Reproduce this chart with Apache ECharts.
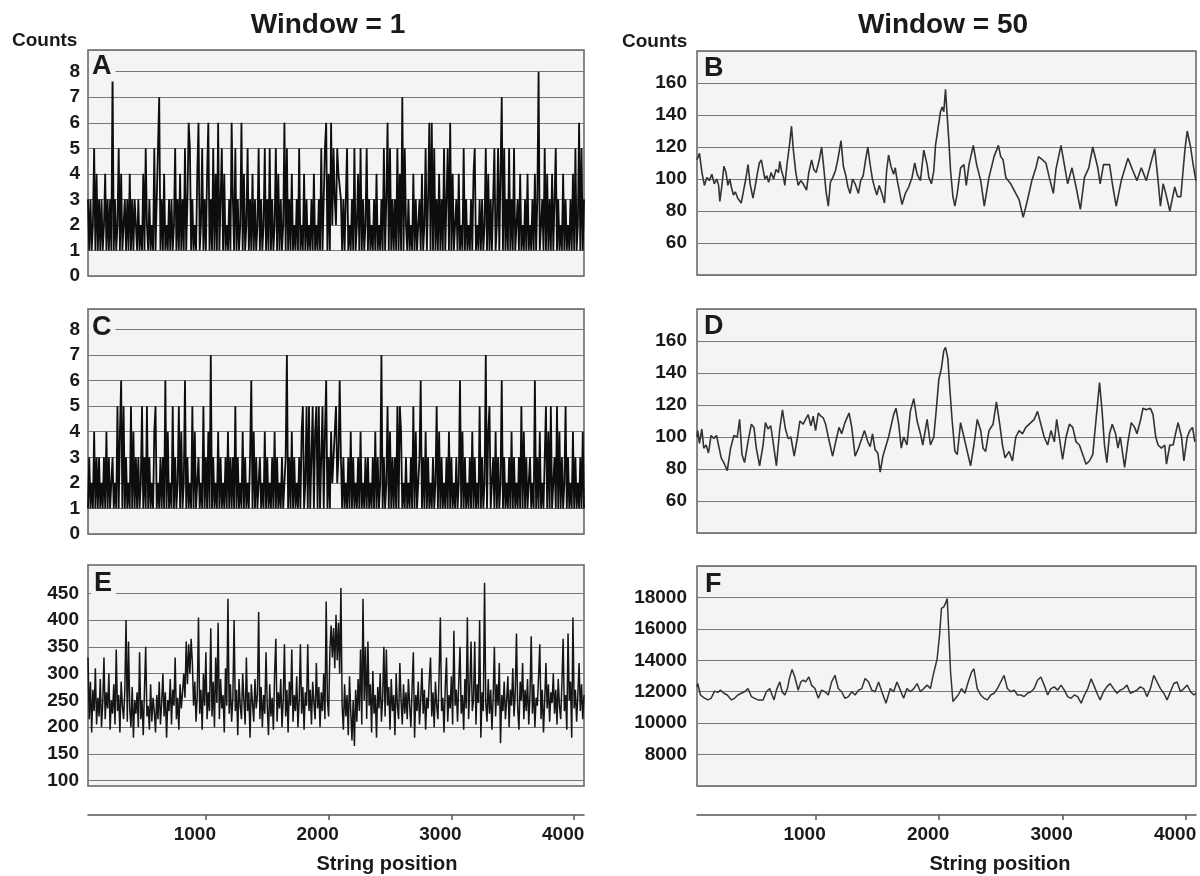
<!DOCTYPE html>
<html><head><meta charset="utf-8">
<script src="https://cdn.jsdelivr.net/npm/echarts@6/dist/echarts.min.js"></script>
<style>html,body{margin:0;padding:0;background:#fff}#c{width:1200px;height:876px}</style>
</head><body><div id="c"></div>
<script>
// ---------------- DATA ----------------
const POS_START = 40;      // first string position sampled
const POS_STEP = 10;       // string positions between samples in panels A, C, E

// Panel A: counts, window = 1 (one digit per sample)
const countsA = [
 "3131251413","1312413131","8131251412","3131413132",
 "1312141521","3121513571","3141213131","2513141315",
 "1365131214","6125131461","3151416135","1412131631",
 "5131261412","5131413125","1312513151","3125141312",
 "6151314121","3151214131","2131412131","5135614162",
 "5325443131","3512131512","4151312513","1213141213",
 "1513615131","3151417152","1312141312","3141251361",
 "6151314131","5135161412","3141215131","2131451213",
 "1312514131","3512514715","1315131512","3141213141",
 "2131413812","3151413141","1513121413","1213141512",
 "61513"
].join('').split('').map(Number);

// Panel C: counts, window = 1
const countsC = [
 "1312141313","1213141312","3121514615","1312151413",
 "1312513151","3121451213","1316141215","1312514126",
 "1312151412","3121513141","7131214131","2131413131",
 "5131214131","2136141312","3121413121","3141312131",
 "1371314131","2131451251","5135145151","3514613142",
 "3452363131","2131413121","3141213131","2131413127",
 "1312514131","3151541213","1213151412","3613141312",
 "1312514131","2131413121","3126141312","1314131215",
 "1312714512","3141312613","1213141312","1315141312",
 "3121613141","2135141512","3151413125","1312141312",
 "13141"
].join('').split('').map(Number);

// Panel E: counts, window = 1
const countsE = [
 330,215,285,190,270,230,310,205,255,220,290,200,245,330,215,265,235,300,195,250,
 225,280,205,345,230,260,190,285,240,215,270,400,210,360,235,200,275,180,250,225,
 265,200,340,215,250,185,270,350,220,240,195,280,210,255,230,190,260,215,285,205,
 245,300,220,265,180,250,230,290,205,270,240,330,215,255,195,280,235,265,300,255,
 360,280,355,300,365,320,240,285,210,260,405,225,270,195,300,240,340,215,265,230,
 385,220,285,200,330,245,395,215,290,235,260,190,310,240,440,225,280,210,255,400,
 230,270,185,290,240,215,300,250,205,330,230,265,180,280,245,210,290,235,260,415,
 215,275,200,260,225,340,240,185,280,220,255,195,300,365,210,265,235,290,200,250,
 355,220,270,190,285,240,345,210,260,230,295,200,250,355,225,275,195,265,240,355,
 230,270,205,285,245,215,320,235,275,200,265,230,300,215,435,250,220,340,390,330,
 385,310,410,325,395,300,460,240,195,280,220,260,185,295,230,175,250,165,270,210,
 290,230,345,205,440,250,350,215,360,240,280,190,305,225,260,180,275,235,300,210,
 255,350,220,345,240,275,195,290,230,260,185,300,240,215,320,250,205,280,225,265,
 215,290,240,200,275,340,180,260,230,285,205,250,310,225,270,195,255,235,290,330,
 220,265,200,285,240,215,300,405,230,255,190,275,330,210,260,235,295,205,380,240,
 270,210,285,350,225,260,195,290,235,405,215,275,360,230,250,360,205,280,245,400,
 180,265,230,470,245,210,290,225,270,195,255,350,220,280,240,320,170,260,230,285,
 215,250,295,200,270,240,310,220,265,375,235,195,285,250,320,215,270,230,290,205,
 260,370,225,280,200,255,240,295,355,215,270,190,250,320,235,280,210,265,245,300,
 225,270,205,290,240,215,280,365,230,260,195,375,250,285,180,405,235,270,210,260,
 320,230,280,215,260
];

// Panel B: window = 50, [string position, counts]
const seriesB = [
 [40,112],[60,116],[80,104],[100,96],[120,101],[140,99],[160,103],[180,97],[200,100],[215,96],
 [225,86],[240,95],[258,108],[275,104],[290,96],[305,100],[318,95],[335,90],[350,92],[370,88],
 [385,89],[398,85],[415,92],[435,100],[453,109],[470,97],[493,88],[510,95],[530,104],[545,110],
 [561,112],[575,106],[590,100],[605,102],[620,98],[640,104],[660,100],[680,106],[700,104],[710,111],
 [725,105],[740,101],[751,96],[770,110],[790,122],[805,133],[820,118],[840,104],[859,96],[880,99],
 [900,97],[927,93],[945,104],[968,112],[985,106],[1005,104],[1030,112],[1049,120],[1065,108],[1085,92],
 [1103,83],[1120,98],[1140,101],[1160,105],[1180,112],[1206,124],[1225,108],[1245,102],[1262,95],[1280,91],
 [1300,100],[1320,97],[1347,91],[1365,99],[1385,102],[1405,112],[1423,120],[1440,110],[1460,100],[1480,94],
 [1496,90],[1515,96],[1537,91],[1558,85],[1575,105],[1591,115],[1610,108],[1632,103],[1645,107],[1659,100],
 [1700,84],[1727,91],[1754,95],[1781,101],[1803,110],[1822,103],[1849,99],[1876,118],[1903,109],[1917,101],
 [1938,97],[1957,105],[1971,121],[1992,132],[2011,142],[2025,145],[2038,142],[2052,156],[2066,139],[2079,124],
 [2093,105],[2112,89],[2128,83],[2147,91],[2174,107],[2201,109],[2220,96],[2242,109],[2277,121],[2304,109],
 [2337,99],[2366,83],[2404,101],[2445,114],[2480,121],[2499,114],[2518,112],[2540,101],[2580,97],[2621,91],
 [2648,87],[2681,76],[2716,87],[2751,99],[2784,107],[2805,114],[2838,112],[2865,110],[2892,101],[2925,91],
 [2946,106],[2987,121],[3014,109],[3041,97],[3076,107],[3109,95],[3144,81],[3177,101],[3212,107],[3244,120],
 [3285,107],[3304,97],[3331,109],[3380,109],[3407,95],[3434,83],[3475,99],[3529,113],[3570,105],[3602,99],
 [3637,107],[3678,99],[3711,109],[3746,119],[3773,99],[3792,83],[3814,97],[3835,91],[3868,80],[3908,95],
 [3930,89],[3957,89],[3990,118],[4009,130],[4036,120],[4057,109],[4079,99]
];

// Panel D: window = 50
const seriesD = [
 [40,100],[46,104],[60,96],[79,105],[95,93],[114,95],[133,90],[154,101],[176,99],[198,101],
 [214,95],[236,87],[263,83],[285,79],[312,93],[339,101],[366,100],[385,111],[404,89],[425,84],
 [453,97],[480,108],[501,106],[520,93],[547,82],[575,95],[594,109],[615,105],[637,107],[656,97],
 [683,82],[710,105],[732,117],[756,105],[778,99],[800,100],[827,88],[854,100],[873,110],[900,108],
 [919,111],[940,114],[962,107],[981,113],[1000,104],[1022,115],[1043,113],[1062,112],[1081,108],[1103,100],
 [1138,88],[1163,97],[1190,106],[1211,102],[1238,109],[1271,115],[1293,106],[1320,88],[1347,93],[1374,99],
 [1396,104],[1423,97],[1442,94],[1461,102],[1482,92],[1504,90],[1523,78],[1545,88],[1564,93],[1591,100],
 [1632,114],[1651,118],[1673,108],[1694,93],[1713,100],[1740,95],[1767,116],[1795,124],[1822,110],[1849,102],
 [1868,95],[1903,111],[1930,95],[1957,100],[1976,116],[1998,136],[2019,143],[2038,154],[2052,156],[2071,149],
 [2087,130],[2106,110],[2128,91],[2147,89],[2174,109],[2201,100],[2228,91],[2255,82],[2282,95],[2309,111],
 [2337,104],[2356,93],[2377,91],[2404,104],[2437,108],[2464,122],[2491,108],[2513,95],[2534,87],[2567,91],
 [2594,85],[2621,100],[2648,104],[2675,102],[2702,106],[2743,109],[2770,111],[2797,116],[2824,108],[2851,100],
 [2879,95],[2906,104],[2933,97],[2952,111],[2973,100],[3000,86],[3028,100],[3055,108],[3082,106],[3109,97],
 [3136,95],[3163,89],[3190,83],[3217,85],[3244,89],[3272,112],[3299,134],[3320,116],[3339,95],[3358,84],
 [3380,102],[3402,108],[3429,102],[3448,93],[3467,100],[3502,81],[3529,97],[3556,109],[3583,106],[3602,102],
 [3629,110],[3651,118],[3678,117],[3711,118],[3732,114],[3754,100],[3773,95],[3800,93],[3827,95],[3841,83],
 [3868,95],[3895,95],[3914,102],[3935,109],[3963,100],[3982,85],[4009,100],[4030,104],[4052,106],[4071,97]
];

// Panel F: window = 50
const seriesF = [
 [40,12300],[46,12520],[68,11790],[95,11620],[127,11480],[154,11580],[182,12040],[209,11960],[230,12100],[257,11900],
 [285,11790],[317,11480],[344,11580],[371,11790],[398,11900],[425,12000],[453,12200],[480,11690],[507,11580],[534,11480],
 [575,11480],[602,12000],[629,12200],[648,11790],[664,11480],[683,12100],[710,12630],[729,12000],[751,11790],[772,12200],
 [791,12940],[810,13420],[832,12940],[859,12100],[881,12630],[900,12730],[919,12630],[946,12940],[967,12420],[995,12200],
 [1022,11580],[1049,12100],[1076,12000],[1103,11790],[1130,12630],[1157,13050],[1184,12200],[1211,12000],[1238,11580],[1266,11690],
 [1293,12000],[1320,11790],[1347,12100],[1374,12200],[1401,12840],[1428,12630],[1455,12100],[1482,12000],[1510,12620],[1537,12000],
 [1570,11270],[1605,12200],[1632,12000],[1659,12620],[1686,12100],[1713,11580],[1740,12200],[1767,12000],[1795,12200],[1822,12520],
 [1849,12000],[1876,12200],[1903,12420],[1930,12200],[1949,12940],[1965,12830],[1984,14080],[2003,15540],[2019,17300],[2038,17400],
 [2052,17620],[2066,17930],[2079,15740],[2093,13250],[2112,11380],[2128,11270],[2155,11790],[2182,12200],[2209,11900],[2236,12620],
 [2263,13250],[2282,13460],[2309,12200],[2337,11790],[2364,11580],[2391,11480],[2418,11790],[2445,11900],[2472,12200],[2499,12620],
 [2526,13040],[2553,12200],[2580,12000],[2608,12100],[2635,11790],[2662,11790],[2689,11690],[2716,11900],[2743,12000],[2770,12200],
 [2797,12730],[2824,12940],[2851,12420],[2879,11790],[2906,12200],[2933,12310],[2960,12100],[2987,12420],[3014,12100],[3041,11690],
 [3068,11580],[3095,11790],[3122,11690],[3150,11270],[3177,11790],[3204,12200],[3231,12830],[3258,12310],[3285,11790],[3304,11480],
 [3331,12000],[3358,12310],[3385,12520],[3412,12200],[3440,11900],[3467,12100],[3494,12200],[3521,12420],[3548,11900],[3575,12000],
 [3602,12100],[3629,12310],[3656,12200],[3683,11690],[3711,12200],[3738,13040],[3765,12620],[3792,12200],[3819,11900],[3846,11480],
 [3873,12000],[3900,12520],[3927,12620],[3954,12000],[3982,12200],[4009,12420],[4036,12000],[4063,11790],[4079,11900]
];

const xTicks = [1000, 2000, 3000, 4000];
const yTicksE = [100, 150, 200, 250, 300, 350, 400, 450];
const panelLetters = ['A', 'B', 'C', 'D', 'E', 'F'];
const columnTitles = ['Window = 1', 'Window = 50'];
const yAxisTitle = 'Counts';
const xAxisTitle = 'String position';

// ---------------- CHART ----------------
const FONT = '"Liberation Sans", Arial, Helvetica, sans-serif';
const BG = '#f4f4f4';
const GRIDLINE = '#787878';
const TEXT = '#1a1a1a';

const withPos = arr => arr.map((v, i) => [POS_START + i * POS_STEP, v]);

const gridBoxes = [
  {left: 88,  top: 50,  width: 496, height: 226},
  {left: 697, top: 51,  width: 499, height: 224},
  {left: 88,  top: 309, width: 496, height: 225},
  {left: 697, top: 309, width: 499, height: 224},
  {left: 88,  top: 565, width: 496, height: 221},
  {left: 697, top: 566, width: 499, height: 220}
];
const grid = gridBoxes.map(g => Object.assign({
  show: true, backgroundColor: BG, borderColor: '#626262', borderWidth: 1.5
}, g));

const labelStyle = {color: TEXT, fontSize: 19, fontWeight: 'bold', fontFamily: FONT};

const xAxis = gridBoxes.map((g, i) => ({
  type: 'value', gridIndex: i, min: 40, max: 4080,
  show: i >= 4, offset: 29,
  axisLine: {show: true, onZero: false, lineStyle: {color: '#555', width: 1.6}},
  axisTick: {show: true, length: 5, customValues: xTicks, lineStyle: {color: '#555', width: 1.5}},
  axisLabel: Object.assign({
    customValues: xTicks, margin: 10, padding: [0, 22, 0, 0],
    formatter: v => (v % 1000 === 0 ? String(v) : '')
  }, labelStyle),
  splitLine: {show: false}
}));

const splitLine = {show: true, lineStyle: {color: GRIDLINE, width: 1.2}};
const baseY = (i, extra) => Object.assign({
  type: 'value', gridIndex: i,
  axisLine: {show: false}, axisTick: {show: false},
  splitLine: splitLine
}, extra);

const yAxis = [
  baseY(0, {min: 0, max: 8.85, interval: 1,
    axisLabel: Object.assign({margin: 8, formatter: v => (Number.isInteger(v) ? String(v) : '')}, labelStyle)}),
  baseY(1, {min: 40, max: 180, interval: 20,
    axisLabel: Object.assign({margin: 10, formatter: v => (v === 40 || v === 180 ? '' : String(v))}, labelStyle)}),
  baseY(2, {min: 0, max: 8.8, interval: 1,
    axisLabel: Object.assign({margin: 8, formatter: v => (Number.isInteger(v) ? String(v) : '')}, labelStyle)}),
  baseY(3, {min: 40, max: 180, interval: 20,
    axisLabel: Object.assign({margin: 10, formatter: v => (v === 40 || v === 180 ? '' : String(v))}, labelStyle)}),
  baseY(4, {min: 90, max: 503,
    axisTick: {show: false, customValues: yTicksE},
    axisLabel: Object.assign({margin: 9, customValues: yTicksE, formatter: v => String(v)}, labelStyle)}),
  baseY(5, {min: 6000, max: 20000, interval: 2000,
    axisLabel: Object.assign({margin: 10, formatter: v => (v === 6000 || v === 20000 ? '' : String(v))}, labelStyle)})
];

const lineSeries = (i, data, color, width) => ({
  type: 'line', xAxisIndex: i, yAxisIndex: i, data: data,
  symbol: 'none', showSymbol: false, silent: true, animation: false,
  lineStyle: {color: color, width: width}, emphasis: {disabled: true}, z: 3
});

const series = [
  lineSeries(0, withPos(countsA), '#0d0d0d', 1.8),
  lineSeries(1, seriesB, '#333', 1.6),
  lineSeries(2, withPos(countsC), '#0d0d0d', 1.8),
  lineSeries(3, seriesD, '#333', 1.6),
  lineSeries(4, withPos(countsE), '#151515', 1.5),
  lineSeries(5, seriesF, '#333', 1.5)
];

const letterPos = [[89, 67], [704, 69], [89, 328], [704, 327], [91, 584], [705, 585]];
const letterMasks = [true, false, true, false, true, false];
const txt = (text, x, y, size, align, extra) => ({
  type: 'text', x: x, y: y, z: 100, silent: true,
  style: Object.assign({text: text, font: 'bold ' + size + 'px ' + FONT, fill: TEXT,
    align: align, verticalAlign: 'middle'}, extra || {})
});

const graphic = [
  txt(columnTitles[0], 328, 25, 28, 'center'),
  txt(columnTitles[1], 943, 25, 28, 'center'),
  txt(yAxisTitle, 12, 41, 19, 'left'),
  txt(yAxisTitle, 622, 42, 19, 'left'),
  txt(xAxisTitle, 387, 864, 20, 'center'),
  txt(xAxisTitle, 1000, 864, 20, 'center')
].concat(panelLetters.map((L, i) =>
  txt(L, letterPos[i][0], letterPos[i][1], 27, 'left',
      letterMasks[i] ? {backgroundColor: BG, padding: [1, 4, 1, 3]} : {})
));

const chart = echarts.init(document.getElementById('c'), null, {renderer: 'canvas'});
chart.setOption({
  animation: false,
  backgroundColor: '#ffffff',
  grid: grid, xAxis: xAxis, yAxis: yAxis, series: series, graphic: graphic
});
</script></body></html>
